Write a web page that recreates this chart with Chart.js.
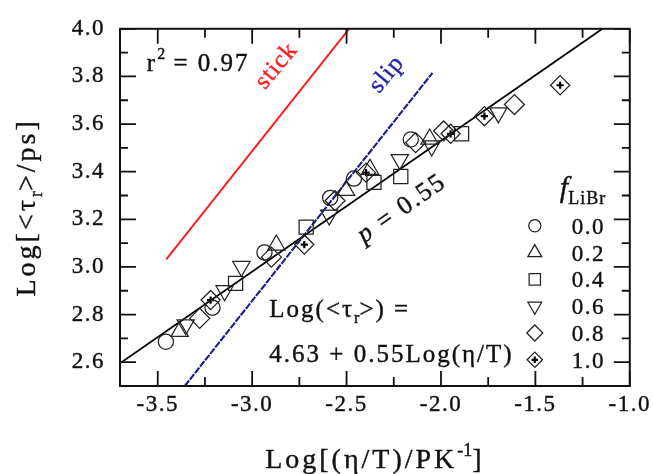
<!DOCTYPE html>
<html><head><meta charset="utf-8">
<script src="https://cdn.jsdelivr.net/npm/chart.js@4.4.0/dist/chart.umd.min.js"></script>
<style>html,body{margin:0;padding:0;background:#fff;}canvas{display:block;}</style>
</head><body>
<canvas id="c" width="653" height="474"></canvas>
<script>
// ---- data ----
const seriesLabels = ['0.0', '0.2', '0.4', '0.6', '0.8', '1.0'];
const x00 = [-3.457, -3.210, -2.935, -2.587, -2.461, -2.160];
const y00 = [2.686, 2.829, 3.061, 3.290, 3.371, 3.535];
const x02 = [-3.384, -2.872, -2.503, -2.376, -2.060];
const y02 = [2.729, 3.092, 3.321, 3.410, 3.537];
const x04 = [-3.088, -2.714, -2.355, -2.213, -1.891];
const y04 = [2.931, 3.167, 3.355, 3.380, 3.559];
const x06 = [-3.352, -3.146, -3.057, -2.592, -2.218, -2.049, -1.696];
const y06 = [2.757, 2.900, 3.002, 3.218, 3.451, 3.508, 3.647];
const x08 = [-3.278, -2.898, -2.561, -2.134, -1.986, -1.611];
const y08 = [2.784, 3.041, 3.278, 3.522, 3.571, 3.682];
const x10 = [-3.220, -2.724, -2.397, -1.949, -1.770, -1.369];
const y10 = [2.861, 3.094, 3.396, 3.559, 3.633, 3.763];
const fitX = [-3.7, -1.145];
const fitY = [2.595, 4.0];
const stickX = [-3.455, -2.487];
const stickY = [3.032, 4.0];
const slipX = [-3.357, -2.045];
const slipY = [2.5, 3.815];
const xTicks = [-3.5, -3.0, -2.5, -2.0, -1.5, -1.0];
const xMinorTicks = [-3.25, -2.75, -2.25, -1.75, -1.25];
const yTicks = [2.6, 2.8, 3.0, 3.2, 3.4, 3.6, 3.8, 4.0];
const yMinorTicks = [2.7, 2.9, 3.1, 3.3, 3.5, 3.7, 3.9];

// ---- styling ----
const SERIF = '"Liberation Serif", "Times New Roman", serif';
const INK = '#111';
const MARK = '#222';
const pts = (xs, ys) => xs.map((x, i) => ({x: x, y: ys[i]}));
const markerStyles = [
  {pointStyle: 'circle', radius: 7.6, rotation: 0},
  {pointStyle: 'triangle', radius: 10, rotation: 0},
  {pointStyle: 'rect', radius: 10, rotation: 0},
  {pointStyle: 'triangle', radius: 10, rotation: 180},
  {pointStyle: 'rectRot', radius: 10, rotation: 0},
  {pointStyle: 'rectRot', radius: 9.6, rotation: 0}
];
const seriesData = [pts(x00, y00), pts(x02, y02), pts(x04, y04), pts(x06, y06), pts(x08, y08), pts(x10, y10)];

const datasets = [];
seriesData.forEach((d, i) => {
  const m = markerStyles[i];
  datasets.push({
    label: seriesLabels[i], data: d, showLine: false,
    pointStyle: m.pointStyle, pointRadius: m.radius, pointRotation: m.rotation,
    pointBorderWidth: 1.25, borderColor: MARK, backgroundColor: 'rgba(0,0,0,0)'
  });
});
// plus sign inside the 1.0 diamonds
datasets.push({label: '1.0+', data: seriesData[5], showLine: false, pointStyle: 'cross',
  pointRadius: 3.6, pointBorderWidth: 2.2, borderColor: '#000', backgroundColor: 'rgba(0,0,0,0)'});
datasets.push({label: 'fit', data: pts(fitX, fitY), showLine: true, pointRadius: 0,
  borderColor: '#000', borderWidth: 1.8, fill: false});
datasets.push({label: 'stick', data: pts(stickX, stickY), showLine: true, pointRadius: 0,
  borderColor: '#ff1818', borderWidth: 1.9, fill: false});
datasets.push({label: 'slip', data: pts(slipX, slipY), showLine: true, pointRadius: 0,
  borderColor: '#1c1c8e', borderWidth: 2.1, borderDash: [7, 1.2], fill: false});

function drawRich(ctx, parts, x, y, align, rot, vcenter) {
  ctx.save();
  ctx.translate(x, y);
  if (rot) ctx.rotate(rot);
  ctx.textBaseline = 'alphabetic';
  ctx.textAlign = 'left';
  let w = 0;
  parts.forEach(p => {
    ctx.font = p.font; ctx.letterSpacing = p.ls || '0px';
    p.w = ctx.measureText(p.t).width; w += p.w;
  });
  let cx = align === 'center' ? -w / 2 : 0;
  const dy0 = vcenter ? vcenter : 0;
  parts.forEach(p => {
    ctx.font = p.font; ctx.letterSpacing = p.ls || '0px';
    ctx.fillStyle = p.color || INK;
    ctx.strokeStyle = p.color || INK;
    ctx.lineWidth = 0.4;
    ctx.fillText(p.t, cx, dy0 + (p.dy || 0));
    ctx.strokeText(p.t, cx, dy0 + (p.dy || 0));
    cx += p.w;
  });
  ctx.restore();
}
const F = (size, style) => (style ? style + ' ' : '') + size + 'px ' + SERIF;

const decor = {
  id: 'decor',
  beforeDraw(chart) { chart.ctx.letterSpacing = '1.5px'; },
  afterDatasetsDraw(chart) {
    const ctx = chart.ctx;
    const a = chart.chartArea;
    const xs = chart.scales.x, ys = chart.scales.y;
    ctx.save();
    ctx.letterSpacing = '0px';
    // frame
    ctx.strokeStyle = INK;
    ctx.lineWidth = 2;
    ctx.strokeRect(a.left, a.top, a.right - a.left, a.bottom - a.top);
    // ticks, inward on all four sides
    ctx.lineWidth = 1.8;
    ctx.beginPath();
    const xt = (vals, len) => vals.forEach(v => {
      const p = xs.getPixelForValue(v);
      ctx.moveTo(p, a.bottom); ctx.lineTo(p, a.bottom - len);
      ctx.moveTo(p, a.top); ctx.lineTo(p, a.top + len);
    });
    const yt = (vals, len) => vals.forEach(v => {
      const p = ys.getPixelForValue(v);
      ctx.moveTo(a.left, p); ctx.lineTo(a.left + len, p);
      ctx.moveTo(a.right, p); ctx.lineTo(a.right - len, p);
    });
    xt(xTicks, 15); xt(xMinorTicks, 9);
    yt(yTicks, 16); yt(yMinorTicks, 8);
    ctx.stroke();
    ctx.restore();

    const LS = '2px';
    // r^2 label
    drawRich(ctx, [
      {t: 'r', font: F(25), ls: LS},
      {t: '2', font: F(16), ls: '0px', dy: -12},
      {t: ' = 0.97', font: F(25), ls: LS}
    ], xs.getPixelForValue(-3.558), ys.getPixelForValue(3.822), 'left');
    // stick / slip
    drawRich(ctx, [{t: 'stick', font: F(25), ls: '1px', color: '#ff2020'}],
      xs.getPixelForValue(-2.872), ys.getPixelForValue(3.845), 'center', -50 * Math.PI / 180, 7);
    drawRich(ctx, [{t: 'slip', font: F(25), ls: '1px', color: '#2424a4'}],
      xs.getPixelForValue(-2.288), ys.getPixelForValue(3.81), 'center', -50 * Math.PI / 180, 7);
    // p = 0.55
    drawRich(ctx, [
      {t: 'p', font: F(26, 'italic'), ls: LS},
      {t: ' = 0.55', font: F(26), ls: LS}
    ], xs.getPixelForValue(-2.207), ys.getPixelForValue(3.245), 'center', -35 * Math.PI / 180, 7);
    // equation
    drawRich(ctx, [
      {t: 'Log(<τ', font: F(25), ls: LS},
      {t: 'r', font: F(16), ls: '0px', dy: 6},
      {t: '>) =', font: F(25), ls: LS}
    ], xs.getPixelForValue(-2.909), ys.getPixelForValue(2.788), 'left');
    drawRich(ctx, [{t: '4.63 + 0.55Log(η/T)', font: F(25), ls: LS}],
      xs.getPixelForValue(-2.909), ys.getPixelForValue(2.60), 'left');

    // legend
    drawRich(ctx, [
      {t: 'f', font: F(30, 'italic'), ls: '0px'},
      {t: 'LiBr', font: F(18), ls: '1px', dy: 7}
    ], a.right - 70, a.top + 168, 'left');
    for (let i = 0; i < seriesLabels.length; i++) {
      const cy = a.top + 197 + i * 26.8;
      const cxp = a.right - 95;
      const m = markerStyles[i];
      ctx.save();
      ctx.strokeStyle = MARK; ctx.fillStyle = 'rgba(0,0,0,0)'; ctx.lineWidth = 1.25;
      Chart.helpers.drawPoint(ctx, {pointStyle: m.pointStyle, radius: m.radius * 0.8, rotation: m.rotation, borderWidth: 1.25}, cxp, cy);
      if (i === 5) {
        ctx.strokeStyle = '#000'; ctx.lineWidth = 2.2;
        Chart.helpers.drawPoint(ctx, {pointStyle: 'cross', radius: 3.2, rotation: 0, borderWidth: 2.2}, cxp, cy);
      }
      ctx.restore();
      drawRich(ctx, [{t: seriesLabels[i], font: F(23), ls: '1.5px'}], a.right - 58, cy + 8, 'left');
    }

    // axis titles
    drawRich(ctx, [
      {t: 'Log[<τ', font: F(28), ls: '3px'},
      {t: 'r', font: F(18), ls: '0px', dy: 7},
      {t: '>/ps]', font: F(28), ls: '3px'}
    ], 35, (a.top + a.bottom) / 2, 'center', -Math.PI / 2);
    drawRich(ctx, [
      {t: 'Log[(η/T)/PK', font: F(28), ls: '3px'},
      {t: '-1', font: F(18), ls: '0px', dy: -12},
      {t: ']', font: F(28), ls: '3px'}
    ], (a.left + a.right) / 2, 468, 'center');
  },
  afterDraw(chart) { chart.ctx.letterSpacing = '0px'; }
};

const tickFont = {family: SERIF, size: 23};
new Chart(document.getElementById('c'), {
  type: 'scatter',
  data: {datasets: datasets},
  options: {
    responsive: false, animation: false, devicePixelRatio: 1,
    layout: {padding: {left: 0, top: 18, right: 21, bottom: 0}},
    plugins: {legend: {display: false}, tooltip: {enabled: false}},
    scales: {
      x: {
        type: 'linear', min: -3.7, max: -1.0,
        grid: {display: false, drawTicks: false}, border: {display: false},
        ticks: {font: tickFont, color: INK, textStrokeColor: INK, textStrokeWidth: 0.4,
          padding: 5, autoSkip: false, maxRotation: 0,
          callback: v => Number(v).toFixed(1)},
        afterBuildTicks: s => { s.ticks = xTicks.map(v => ({value: v})); },
        afterFit: s => { s.height = 88; }
      },
      y: {
        type: 'linear', min: 2.5, max: 4.0,
        grid: {display: false, drawTicks: false}, border: {display: false},
        ticks: {font: tickFont, color: INK, textStrokeColor: INK, textStrokeWidth: 0.4,
          padding: 15, autoSkip: false,
          callback: v => Number(v).toFixed(1)},
        afterBuildTicks: s => { s.ticks = yTicks.map(v => ({value: v})); },
        afterFit: s => { s.width = 120; }
      }
    }
  },
  plugins: [decor]
});
</script>
</body></html>
